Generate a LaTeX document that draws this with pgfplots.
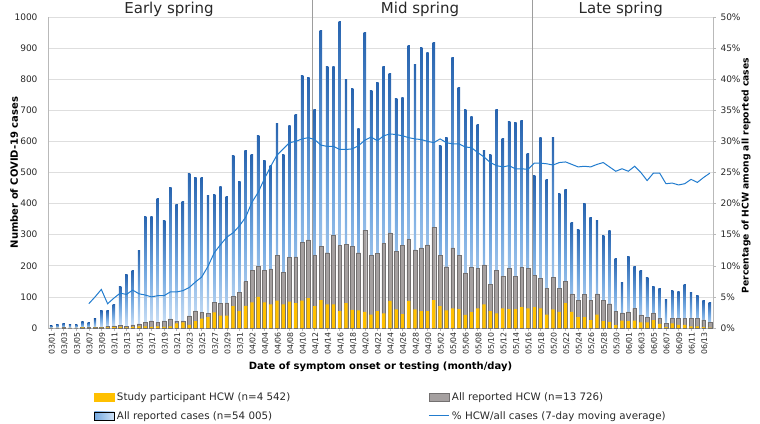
\documentclass[border=0pt]{standalone}
\usepackage{pgfplots}
\pgfplotsset{compat=1.18}
\usepackage{pgfplotstable}
\usepackage{fontspec}
\setmainfont{DejaVu Sans}
\definecolor{ylw}{RGB}{255,192,0}
\definecolor{gryf}{RGB}{165,160,160}
\definecolor{gryd}{RGB}{115,112,112}
\definecolor{btop}{RGB}{40,100,175}
\definecolor{bmid}{RGB}{115,168,224}
\definecolor{bbot}{RGB}{208,227,247}
\definecolor{lineb}{RGB}{34,124,206}
\definecolor{gridc}{RGB}{222,222,222}
\definecolor{axc}{RGB}{185,185,185}
\definecolor{txt}{RGB}{40,40,40}
\pgfplotsset{/pgf/number format/assume math mode=true, /pgf/number format/1000 sep={}}

\pgfplotstableread{
i total hcw part
0 8 0 0
1 12 0 0
2 15 3 0
3 12 0 0
4 12 0 0
5 20 2 2
6 18 1 0
7 29 3 1
8 56 3 1
9 56 5 2
10 77 7 3
11 134 9 4
12 171 5 2
13 185 10 4
14 250 13 5
15 360 19 5
16 357 23 4
17 417 19 5
18 346 23 4
19 453 29 5
20 396 22 15
21 408 23 18
22 498 39 10
23 484 55 22
24 483 50 30
25 426 48 35
26 429 83 50
27 456 80 40
28 423 81 40
29 554 101 70
30 471 114 54
31 572 149 71
32 557 185 82
33 619 198 100
34 538 186 82
35 521 190 76
36 659 233 88
37 558 178 76
38 650 228 85
39 688 229 80
40 812 276 88
41 806 283 96
42 704 233 70
43 957 263 90
44 840 242 76
45 842 298 76
46 987 265 54
47 800 269 80
48 770 263 58
49 643 242 57
50 950 315 52
51 765 233 43
52 788 240 54
53 842 272 47
54 817 306 87
55 737 246 60
56 742 266 45
57 909 285 87
58 848 251 60
59 902 258 54
60 887 267 54
61 917 324 90
62 588 233 70
63 611 197 57
64 869 258 63
65 773 233 61
66 704 177 42
67 680 196 51
68 655 192 63
69 570 203 76
70 559 140 54
71 701 185 47
72 610 167 63
73 663 192 61
74 661 167 61
75 667 196 67
76 562 192 63
77 489 170 67
78 611 159 63
79 477 128 43
80 611 162 60
81 433 128 52
82 446 149 80
83 339 110 52
84 317 89 35
85 399 108 35
86 354 89 25
87 345 110 43
88 296 89 22
89 315 78 19
90 225 54 9
91 145 49 24
92 230 52 22
93 197 63 24
94 185 42 18
95 161 34 18
96 134 49 25
97 128 32 13
98 91 16 3
99 122 32 15
100 117 32 10
101 140 32 10
102 115 32 5
103 106 30 5
104 89 26 3
105 81 19 1
}\bars

\pgfplotstableread{
i pct
6 3.9
7 5.0
8 6.2
9 3.9
10 4.8
11 5.6
12 5.4
13 6.1
14 5.5
15 5.3
16 5.0
17 5.2
18 5.2
19 5.8
20 5.8
21 6.0
22 6.5
23 7.4
24 8.2
25 9.9
26 12.1
27 13.4
28 14.6
29 15.3
30 16.4
31 17.8
32 20.2
33 21.8
34 24.0
35 26.0
36 27.8
37 28.8
38 29.8
39 30.0
40 30.4
41 30.6
42 30.3
43 29.4
44 29.2
45 29.2
46 28.7
47 28.7
48 28.8
49 29.3
50 30.2
51 30.7
52 30.1
53 30.9
54 31.2
55 31.1
56 30.9
57 30.6
58 30.4
59 30.3
60 30.0
61 29.8
62 30.4
63 29.8
64 29.6
65 29.6
66 29.1
67 29.0
68 28.2
69 27.5
70 26.6
71 26.1
72 25.9
73 26.1
74 25.6
75 25.6
76 25.5
77 26.5
78 26.5
79 26.4
80 26.2
81 26.6
82 26.7
83 26.3
84 25.9
85 26.0
86 25.9
87 26.3
88 26.6
89 25.9
90 25.2
91 25.6
92 25.2
93 26.0
94 25.0
95 23.7
96 24.9
97 24.9
98 23.2
99 23.3
100 23.0
101 23.2
102 23.9
103 23.4
104 24.2
105 24.9
}\pcttab

\begin{document}
\begin{tikzpicture}
\useasboundingbox (0,0) rectangle (760pt,423pt);
\begin{axis}[
  at={(48pt,95pt)}, anchor=south west,
  width=665pt, height=311pt, scale only axis,
  xmin=-0.5, xmax=105.5, ymin=0, ymax=1000,
  axis x line*=bottom, axis y line*=left,
  axis line style={axc, line width=0.6pt},
  clip=false,
  ytick={0,100,...,1000},
  ymajorgrids, grid style={gridc, line width=0.6pt},
  ytick style={draw=none},
  xtick={0,2,...,104},
  xtick style={axc, line width=0.5pt},
  tick align=outside, major tick length=3pt,
  xticklabels={03/01,03/03,03/05,03/07,03/09,03/11,03/13,03/15,03/17,03/19,03/21,03/23,03/25,03/27,03/29,03/31,
    04/02,04/04,04/06,04/08,04/10,04/12,04/14,04/16,04/18,04/20,04/22,04/24,04/26,04/28,04/30,
    05/02,05/04,05/06,05/08,05/10,05/12,05/14,05/16,05/18,05/20,05/22,05/24,05/26,05/28,05/30,
    06/01,06/03,06/05,06/07,06/09,06/11,06/13},
  xticklabel style={rotate=90, anchor=east, font=\fontsize{7.8}{8}\selectfont, text=txt, inner sep=1pt, yshift=-1pt},
  yticklabel style={font=\fontsize{9}{10}\selectfont, text=txt, xshift=-4pt},
  xlabel={Date of symptom onset or testing (month/day)},
  xlabel style={font=\bfseries\fontsize{10}{12}\selectfont, at={(axis description cs:0.5,-0.125)}, anchor=center},
  ylabel={Number of COVID-19 cases},
  ylabel style={font=\bfseries\fontsize{10}{12}\selectfont, at={(axis description cs:-0.051,0.5)}, anchor=center, rotate=0},
]
\pgfplotsinvokeforeach{0,...,105}{
  \addplot[ybar, bar width=0.38, bar shift=0pt, draw=none, top color=btop, bottom color=bbot, middle color=bmid,
    x filter/.expression={abs(x-#1)<0.1 ? x : nan}] table[x=i,y=total]{\bars};
}
\addplot[ybar, bar width=0.6, bar shift=0pt, fill=gryf, draw=gryd, line width=0.4pt] table[x=i,y=hcw]{\bars};
\addplot[ybar, bar width=0.52, bar shift=0pt, fill=ylw, draw=none] table[x=i,y=part]{\bars};
\draw[axc!85!black, line width=0.6pt] (axis cs:41.7,0) -- (axis cs:41.7,1055);
\draw[axc!85!black, line width=0.6pt] (axis cs:76.7,0) -- (axis cs:76.7,1055);
\node[anchor=base, font=\fontsize{15}{18}\selectfont, text=txt] at (axis cs:18.8,1010) {Early spring};
\node[anchor=base, font=\fontsize{15}{18}\selectfont, text=txt] at (axis cs:58.8,1010) {Mid spring};
\node[anchor=base, font=\fontsize{15}{18}\selectfont, text=txt] at (axis cs:90.8,1010) {Late spring};
\end{axis}
\begin{axis}[
  at={(48pt,95pt)}, anchor=south west,
  width=665pt, height=311pt, scale only axis,
  xmin=-0.5, xmax=105.5, ymin=0, ymax=50,
  axis y line*=right, axis x line=none,
  axis line style={axc, line width=0.6pt},
  ytick={0,5,...,50},
  ytick style={axc, line width=0.5pt},
  tick align=outside, major tick length=3pt,
  yticklabel={\pgfmathprintnumber{\tick}\%},
  yticklabel style={font=\fontsize{9}{10}\selectfont, text=txt, xshift=1pt},
  ylabel={Percentage of HCW among all reported cases},
  ylabel style={font=\bfseries\fontsize{9.2}{11}\selectfont, at={(axis description cs:1.0496,0.49)}, anchor=center, rotate=0},
  legend columns=2,
  legend cell align=left,
  legend style={draw=none, fill=none, at={(axis description cs:0.069,-0.2)}, anchor=north west,
    font=\fontsize{10.3}{12}\selectfont, text=txt, row sep=4pt, inner sep=0pt,
    nodes={inner sep=2.5pt}},
]
\addlegendimage{legend image code/.code={\fill[ylw] (0pt,-4pt) rectangle (20pt,4pt);}}
\addlegendentry{\makebox[309pt][l]{Study participant HCW (n=4 542)}}
\addlegendimage{legend image code/.code={\fill[gryf, draw=gryd, line width=0.4pt] (0pt,-4pt) rectangle (20pt,4pt);}}
\addlegendentry{All reported HCW (n=13 726)}
\addlegendimage{legend image code/.code={\shade[left color=bmid, right color=bbot] (0pt,-4pt) rectangle (20pt,4pt);}}
\addlegendentry{\makebox[309pt][l]{All reported cases (n=54 005)}}
\addplot[lineb, line width=1pt, legend image code/.code={\draw[lineb, line width=1pt] (0pt,0pt) -- (20pt,0pt);}] table[x=i,y=pct]{\pcttab};
\addlegendentry{\% HCW/all cases (7-day moving average)}
\end{axis}
\end{tikzpicture}
\end{document}
